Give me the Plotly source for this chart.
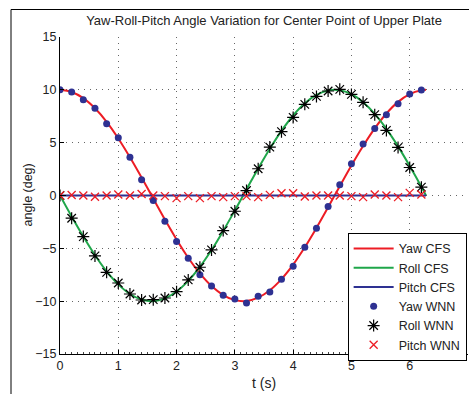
import plotly.graph_objects as go

# Sample times for CFS curves (s)
t_cfs = [0.0, 0.2, 0.4, 0.6, 0.8, 1.0, 1.2, 1.4, 1.6, 1.8, 2.0, 2.2, 2.4, 2.6, 2.8, 3.0,
         3.2, 3.4, 3.6, 3.8, 4.0, 4.2, 4.4, 4.6, 4.8, 5.0, 5.2, 5.4, 5.6, 5.8, 6.0, 6.2, 6.28]
yaw_cfs = [10.0, 9.80, 9.21, 8.25, 6.97, 5.40, 3.62, 1.70, -0.29, -2.27, -4.16, -5.89, -7.37,
           -8.57, -9.42, -9.90, -9.98, -9.67, -8.97, -7.91, -6.54, -4.90, -3.07, -1.12, 0.88,
           2.84, 4.68, 6.35, 7.76, 8.86, 9.60, 9.96, 10.0]
roll_cfs = [0.0, -1.99, -3.89, -5.65, -7.17, -8.41, -9.32, -9.85, -10.0, -9.74, -9.09, -8.08,
            -6.75, -5.16, -3.35, -1.41, 0.58, 2.56, 4.43, 6.12, 7.57, 8.72, 9.52, 9.94, 9.96,
            9.59, 8.83, 7.73, 6.31, 4.65, 2.79, 0.83, 0.0]
t_pitch_cfs = [0.0, 6.28]
pitch_cfs = [0.0, 0.0]

# WNN sample times (s)
t_wnn = [0.0, 0.2, 0.4, 0.6, 0.8, 1.0, 1.2, 1.4, 1.6, 1.8, 2.0, 2.2, 2.4, 2.6, 2.8, 3.0,
         3.2, 3.4, 3.6, 3.8, 4.0, 4.2, 4.4, 4.6, 4.8, 5.0, 5.2, 5.4, 5.6, 5.8, 6.0, 6.2]
yaw_wnn = [10.0, 9.79, 9.07, 8.25, 6.8, 5.47, 3.63, 1.49, -0.47, -2.43, -4.36, -5.94, -7.49,
           -8.56, -9.45, -9.8, -10.17, -9.54, -9.13, -7.93, -6.7, -4.9, -3.1, -1.04, 1.01,
           3.0, 4.87, 6.35, 7.65, 8.69, 9.6, 9.98]
roll_wnn = [0.0, -2.15, -3.89, -5.72, -7.27, -8.28, -9.32, -9.89, -9.86, -9.7, -9.1, -7.99,
            -6.79, -5.15, -3.32, -1.49, 0.47, 2.53, 4.58, 6.04, 7.39, 8.63, 9.38, 9.89, 10.05,
            9.57, 8.82, 7.65, 6.16, 4.55, 2.65, 0.79]
pitch_wnn = [0.0, 0.05, 0.0, -0.12, 0.0, 0.1, 0.0, 0.14, 0.0, -0.06, -0.25, -0.06, -0.25,
             -0.06, -0.15, -0.06, -0.06, -0.15, 0.06, 0.22, 0.22, -0.1, 0.0, 0.0, 0.0, -0.06,
             -0.15, 0.1, 0.0, -0.15, 0.25, 0.1]

x_ticks = [0, 1, 2, 3, 4, 5, 6, 7]
y_ticks = [-15, -10, -5, 0, 5, 10, 15]

RED = "#ed1c24"
GREEN = "#1fa64a"
NAVY = "#2e3192"

fig = go.Figure()
fig.add_trace(go.Scatter(x=t_cfs, y=yaw_cfs, mode="lines", name="Yaw CFS",
                         line=dict(color=RED, width=2, shape="spline")))
fig.add_trace(go.Scatter(x=t_cfs, y=roll_cfs, mode="lines", name="Roll CFS",
                         line=dict(color=GREEN, width=2, shape="spline")))
fig.add_trace(go.Scatter(x=t_pitch_cfs, y=pitch_cfs, mode="lines", name="Pitch CFS",
                         line=dict(color=NAVY, width=2)))
fig.add_trace(go.Scatter(x=t_wnn, y=yaw_wnn, mode="markers", name="Yaw WNN",
                         marker=dict(symbol="circle", color=NAVY, size=7)))
fig.add_trace(go.Scatter(x=t_wnn, y=roll_wnn, mode="markers", name="Roll WNN",
                         marker=dict(symbol="asterisk-open", size=10, color="black",
                                     line=dict(color="black", width=1.2))))
fig.add_trace(go.Scatter(x=t_wnn, y=pitch_wnn, mode="markers", name="Pitch WNN",
                         marker=dict(symbol="x-thin-open", size=8, color=RED,
                                     line=dict(color=RED, width=1.3))))

PLOT_W = 408.0
PLOT_H = 317.0

# figure frame (left/top edges visible)
fig.add_shape(type="line", xref="paper", yref="paper",
              x0=(11 - 60) / PLOT_W, x1=(11 - 60) / PLOT_W,
              y0=1 + 37 / PLOT_H - 394 / PLOT_H, y1=1 + (37 - 9.5) / PLOT_H,
              line=dict(color="black", width=1))
fig.add_shape(type="line", xref="paper", yref="paper",
              x0=(11 - 60) / PLOT_W, x1=(469 - 60) / PLOT_W,
              y0=1 + (37 - 9.5) / PLOT_H, y1=1 + (37 - 9.5) / PLOT_H,
              line=dict(color="black", width=1))

fig.add_annotation(text="angle (deg)", textangle=-90, xref="paper", yref="paper",
                   x=(27 - 60) / PLOT_W, y=0.5, xanchor="center", yanchor="middle",
                   showarrow=False, font=dict(size=12.5, color="#222"))

fig.update_layout(
    width=469, height=394,
    margin=dict(l=60, r=1, t=37, b=40),
    paper_bgcolor="white", plot_bgcolor="white",
    font=dict(family="Liberation Sans, Arial, sans-serif", size=12, color="#222"),
    title=dict(text="Yaw-Roll-Pitch Angle Variation for Center Point of Upper Plate",
               x=0.5, xref="paper", y=1 - 20 / 394, yanchor="middle",
               font=dict(size=13, color="#222")),
    showlegend=True,
    legend=dict(x=0.705, y=0.382, xanchor="left", yanchor="top",
                bgcolor="white", bordercolor="black", borderwidth=1,
                font=dict(size=12.5, color="#222"), tracegroupgap=0, itemwidth=40),
    xaxis=dict(range=[0, 7], tickvals=x_ticks, ticks="inside", ticklen=4,
               tickcolor="black", showline=True, linecolor="black", linewidth=1,
               showgrid=True, gridcolor="#666", griddash="1px,5px", gridwidth=1,
               zeroline=False, title=dict(text="t (s)", standoff=6),
               tickfont=dict(size=12.5),
               minor=dict(dtick=0.1, ticks="inside", ticklen=2, tickcolor="#444",
                          showgrid=False)),
    yaxis=dict(range=[-15, 15], tickvals=y_ticks, ticks="inside", ticklen=4,
               tickcolor="black", showline=True, linecolor="black", linewidth=1,
               showgrid=True, gridcolor="#666", griddash="1px,5px", gridwidth=1,
               zeroline=False, tickfont=dict(size=12.5)),
)

fig.write_html("out.html")
